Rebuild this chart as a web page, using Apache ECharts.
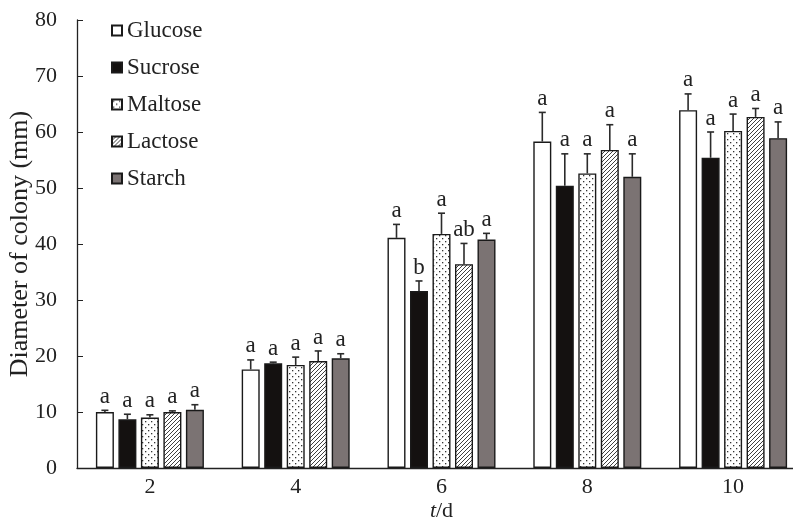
<!DOCTYPE html>
<html>
<head>
<meta charset="utf-8">
<script src="https://cdn.jsdelivr.net/npm/echarts@6/dist/echarts.min.js"></script>
<style>
html,body{margin:0;padding:0;background:#fff;}
#main{width:793px;height:521px;}
</style>
</head>
<body>
<div id="main"></div>
<script>
// days on x axis
var days = ['2', '4', '6', '8', '10'];
var sugars = ['Glucose', 'Sucrose', 'Maltose', 'Lactose', 'Starch'];

// mean colony diameter (mm)
var glucose = [10.0, 17.6, 41.1, 58.3, 63.9];
var sucrose = [8.7, 18.7, 31.6, 50.4, 55.4];
var maltose = [9.0, 18.4, 41.8, 52.6, 60.2];
var lactose = [10.0, 19.1, 36.4, 56.8, 62.7];
var starch = [10.4, 19.6, 40.8, 52.0, 58.9];

// standard deviation (upper bar only)
var glucoseErr = [0.3, 1.7, 2.4, 5.2, 2.9];
var sucroseErr = [0.9, 0.2, 1.8, 5.7, 4.6];
var maltoseErr = [0.5, 1.4, 3.7, 3.5, 3.0];
var lactoseErr = [0.2, 1.8, 3.7, 4.5, 1.5];
var starchErr = [0.9, 0.8, 1.1, 4.1, 2.9];

// significance letters
var glucoseSig = ['a', 'a', 'a', 'a', 'a'];
var sucroseSig = ['a', 'a', 'b', 'a', 'a'];
var maltoseSig = ['a', 'a', 'a', 'a', 'a'];
var lactoseSig = ['a', 'a', 'ab', 'a', 'a'];
var starchSig = ['a', 'a', 'a', 'a', 'a'];

var values = [glucose, sucrose, maltose, lactose, starch];
var errs = [glucoseErr, sucroseErr, maltoseErr, lactoseErr, starchErr];
var sigs = [glucoseSig, sucroseSig, maltoseSig, lactoseSig, starchSig];

var font = "'Liberation Serif', 'Times New Roman', serif";
var barW = 18;
var pitch = 22.5;

function dotPattern() {
	var c = document.createElement('canvas');
	c.width = 6; c.height = 6;
	var ctx = c.getContext('2d');
	ctx.fillStyle = '#fff';
	ctx.fillRect(0, 0, 6, 6);
	ctx.fillStyle = '#333';
	ctx.fillRect(1, 1, 1.3, 1.3);
	ctx.fillRect(4, 4, 1.3, 1.3);
	return c;
}
function hatchPattern() {
	var c = document.createElement('canvas');
	c.width = 4; c.height = 4;
	var ctx = c.getContext('2d');
	ctx.fillStyle = '#fff';
	ctx.fillRect(0, 0, 4, 4);
	ctx.strokeStyle = '#2a2a2a';
	ctx.lineWidth = 0.9;
	ctx.beginPath();
	ctx.moveTo(0, 4); ctx.lineTo(4, 0);
	ctx.moveTo(-1, 1); ctx.lineTo(1, -1);
	ctx.moveTo(3, 5); ctx.lineTo(5, 3);
	ctx.stroke();
	return c;
}

var fills = [
	'#ffffff',
	'#141110',
	{ image: dotPattern(), repeat: 'repeat' },
	{ image: hatchPattern(), repeat: 'repeat' },
	'#7b7373'
];

var series = [];
sugars.forEach(function (name, k) {
	series.push({
		name: name,
		type: 'bar',
		data: values[k],
		barWidth: barW,
		barGap: '25%',
		itemStyle: { color: fills[k], borderColor: '#1a1a1a', borderWidth: 1.4 },
		silent: true
	});
});
sugars.forEach(function (name, k) {
	series.push({
		type: 'custom',
		silent: true,
		z: 5,
		data: values[k].map(function (v, i) { return [i, v, errs[k][i]]; }),
		renderItem: function (params, api) {
			var base = api.coord([api.value(0), api.value(1)]);
			var top = api.coord([api.value(0), api.value(1) + api.value(2)]);
			var x = base[0] + (k - 2) * pitch;
			var st = { stroke: '#2b2b2b', lineWidth: 1.6 };
			return {
				type: 'group',
				children: [
					{ type: 'line', shape: { x1: x, y1: base[1], x2: x, y2: top[1] }, style: st },
					{ type: 'line', shape: { x1: x - 3.5, y1: top[1], x2: x + 3.5, y2: top[1] }, style: st },
					{ type: 'text', style: {
						x: x, y: top[1] - 2, text: sigs[k][params.dataIndex],
						align: 'center', verticalAlign: 'bottom',
						font: '23px ' + font, fill: '#222'
					} }
				]
			};
		}
	});
});

var myChart = echarts.init(document.getElementById('main'));
var option = {
	backgroundColor: '#fff',
	animation: false,
	grid: { left: 77, top: 20, width: 729, height: 448, outerBoundsMode: 'none', containLabel: false },
	legend: {
		orient: 'vertical',
		left: 106,
		top: 14,
		itemWidth: 10,
		itemHeight: 10,
		itemGap: 14,
		icon: 'rect',
		data: sugars,
		textStyle: { fontFamily: font, fontSize: 23, color: '#222' }
	},
	xAxis: {
		type: 'category',
		data: days,
		axisTick: { show: false },
		axisLine: { lineStyle: { color: '#222', width: 1.3 } },
		axisLabel: { fontFamily: font, fontSize: 22, color: '#222', margin: 8 },
		name: '{i|t}/d',
		nameLocation: 'middle',
		nameGap: 32,
		nameMoveOverlap: false,
		nameTextStyle: {
			fontFamily: font, fontSize: 22, color: '#222',
			rich: { i: { fontFamily: font, fontSize: 22, fontStyle: 'italic', color: '#222' } }
		}
	},
	yAxis: {
		type: 'value',
		min: 0,
		max: 80,
		interval: 10,
		splitLine: { show: false },
		axisLine: { show: true, lineStyle: { color: '#222', width: 1.3 } },
		axisTick: { show: true, inside: true, length: 6, lineStyle: { color: '#222' } },
		axisLabel: { fontFamily: font, fontSize: 22, color: '#222', margin: 20 },
		name: 'Diameter of colony (mm)',
		nameLocation: 'middle',
		nameGap: 44,
		nameMoveOverlap: false,
		nameTextStyle: { fontFamily: font, fontSize: 26, color: '#222' }
	},
	series: series
};
myChart.setOption(option);
</script>
</body>
</html>
